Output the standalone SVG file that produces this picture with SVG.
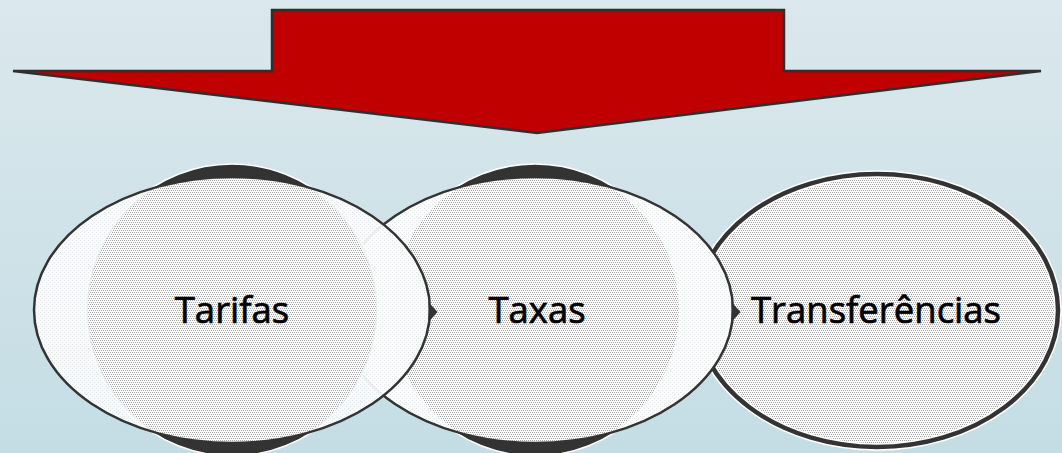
<svg xmlns="http://www.w3.org/2000/svg" width="1062" height="453" viewBox="0 0 1062 453">
<style>
.back{fill:#333333;stroke:#ffffff;stroke-width:1.5}
.base{fill:url(#faint)}
.edge{fill:none;stroke:#333333;stroke-width:2.5}
.lbl{font-family:"Open Sans","DejaVu Sans",sans-serif;font-size:36.5px;fill:#000000;stroke:#000000;stroke-width:0.7;text-anchor:middle}
.tip{fill:#333333}
</style>
<defs>
<linearGradient id="bg" x1="0" y1="0" x2="0" y2="1">
<stop offset="0" stop-color="#dbe8ed"/>
<stop offset="1" stop-color="#c4dde4"/>
</linearGradient>
<pattern id="dots" width="4" height="4" patternUnits="userSpaceOnUse">
<rect width="4" height="4" fill="#fcfcfc"/>
<rect x="0" y="0" width="1" height="1" fill="#a4a4a4"/>
<rect x="2" y="0" width="1" height="1" fill="#a4a4a4"/>
<rect x="1" y="2" width="1" height="1" fill="#a4a4a4"/>
<rect x="3" y="2" width="1" height="1" fill="#a4a4a4"/>
</pattern>
<pattern id="faint" width="4" height="4" patternUnits="userSpaceOnUse">
<rect width="4" height="4" fill="#fbfcfc"/>
<rect x="0" y="0" width="1" height="1" fill="#e4e8ea"/>
<rect x="2" y="2" width="1" height="1" fill="#e4e8ea"/>
</pattern>
<clipPath id="c1"><ellipse cx="232" cy="310" rx="198" ry="133"/></clipPath>
<clipPath id="c2"><ellipse cx="535" cy="310" rx="198" ry="133"/></clipPath>
</defs>
<rect width="1062" height="453" fill="url(#bg)"/>
<g id="arrow">
<path d="M13,71 L272,71 L272,10 L784,10 L784,71 L1041,71 L537,133 Z" fill="#c00000" stroke="#2f2f2f" stroke-width="2.5" stroke-linejoin="miter"/>
</g>
<g id="node-transferencias">
<ellipse cx="877" cy="310.5" rx="181" ry="136.5" fill="url(#dots)" stroke="#ffffff" stroke-width="7.5"/>
<ellipse cx="877" cy="310.5" rx="181" ry="136.5" fill="none" stroke="#333333" stroke-width="4.5"/>
<text class="lbl" x="876" y="323">Transferências</text>
</g>
<g id="node-taxas">
<circle class="back" cx="535" cy="310" r="146"/>
<ellipse class="base" cx="535" cy="310" rx="198" ry="133"/>
<circle cx="535" cy="310" r="144" fill="url(#dots)" clip-path="url(#c2)"/>
<ellipse class="edge" cx="535" cy="310" rx="198" ry="133"/>
<text class="lbl" x="537" y="323">Taxas</text>
</g>
<g id="node-tarifas">
<circle class="back" cx="232" cy="310" r="146"/>
<ellipse class="base" cx="232" cy="310" rx="198" ry="133" opacity="0.93"/>
<circle cx="232" cy="310" r="144" fill="url(#dots)" clip-path="url(#c1)" opacity="0.95"/>
<ellipse class="edge" cx="232" cy="310" rx="198" ry="133"/>
<text class="lbl" x="232" y="323">Tarifas</text>
</g>
<g id="connectors">
<path class="tip" d="M428.5,302 L437.5,312 L428.5,322 Z"/>
<path class="tip" d="M731.5,302 L740.5,312 L731.5,322 Z"/>
</g>
</svg>
